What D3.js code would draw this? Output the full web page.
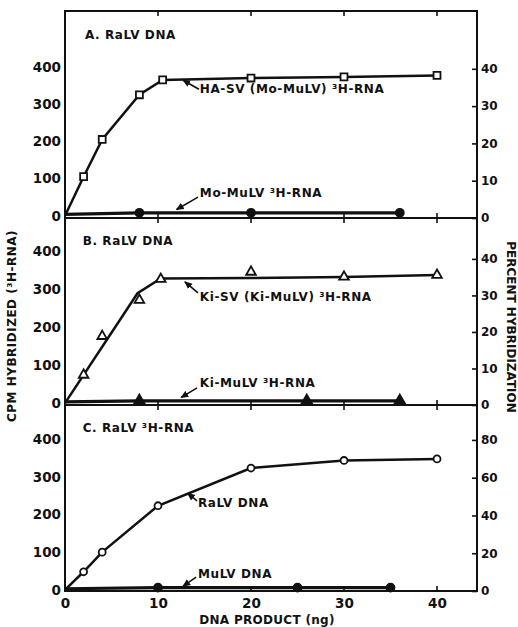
<!DOCTYPE html>
<html>
<head>
<meta charset="utf-8">
<script src="https://cdn.jsdelivr.net/npm/d3@7"></script>
<style>
body { margin: 0; background: #fff; }
text { font-family: "DejaVu Sans", sans-serif; font-weight: bold; fill: #111; }
</style>
</head>
<body>
<div id="chart"></div>
<script>
// DNA product (ng) and CPM hybridized
var haSvX = [2, 4, 8, 10.5, 20, 30, 40];
var haSvY = [105, 205, 325, 365, 370, 373, 377];
var moMulvX = [8, 20, 36];
var moMulvY = [8, 8, 8];

var kiSvX = [2, 4, 8, 10.3, 20, 30, 40];
var kiSvY = [74, 176, 271, 326, 345, 332, 337];
var kiSvFitX = [0, 7.8, 10.3, 20, 30, 40];
var kiSvFitY = [0, 289, 328, 329, 332, 337];
var kiMulvX = [8, 26, 36];
var kiMulvY = [6, 6, 6];

var ralvX = [2, 4, 10, 20, 30, 40];
var ralvY = [48, 100, 223, 323, 343, 347];
var mulvX = [10, 25, 35];
var mulvY = [6, 6, 6];

var xTicks = [0, 10, 20, 30, 40];
var innerTicks = [10, 20, 30, 40];
var cpmTicks = [0, 100, 200, 300, 400];
var pctTicksAB = [0, 10, 20, 30, 40];
var pctTicksC = [0, 20, 40, 60, 80];

// labels and leader arrows, in data units (ng, cpm)
var labelsA = [["A. RaLV DNA", 2.15, 475], ["HA-SV (Mo-MuLV) ³H-RNA", 14.5, 330], ["Mo-MuLV ³H-RNA", 14.5, 50]];
var arrowsA = [[14.4, 340, 12.7, 364], [14.3, 50, 12.0, 17]];
var labelsB = [["B. RaLV DNA", 1.9, 416], ["Ki-SV (Ki-MuLV) ³H-RNA", 14.5, 268], ["Ki-MuLV ³H-RNA", 14.5, 42]];
var arrowsB = [[14.3, 290, 12.9, 319], [14.2, 40, 12.5, 15]];
var labelsC = [["C. RaLV ³H-RNA", 1.9, 419], ["RaLV DNA", 14.3, 220], ["MuLV DNA", 14.3, 32]];
var arrowsC = [[14.2, 236, 13.2, 256], [14.1, 34, 12.7, 10]];

function pts(xs, ys) { return xs.map(function(d, i) { return [d, ys[i]]; }); }

var margin = {top: 11, right: 41, bottom: 36, left: 65},
  width = 518 - margin.left - margin.right,
  height = 627 - margin.top - margin.bottom;

var svg = d3.select("#chart")
  .append("svg")
  .attr("width", 518)
  .attr("height", 627)
  .append("g")
  .attr("transform", "translate(" + margin.left + "," + margin.top + ")");

svg.append("defs").append("marker")
  .attr("id", "arr")
  .attr("viewBox", "0 0 8 8")
  .attr("refX", 7).attr("refY", 4)
  .attr("markerWidth", 8).attr("markerHeight", 8)
  .attr("markerUnits", "userSpaceOnUse")
  .attr("orient", "auto")
  .append("path").attr("d", "M0,0.5L8,4L0,7.5z").attr("fill", "#111");

var x = d3.scaleLinear().domain([0, 44.3]).range([0, width]);

var panels = [
  {top: 0, bottom: 207, y: d3.scaleLinear().domain([-6, 550]).range([207, 0]),
   pct: d3.scaleLinear().domain([0, 55.5]).range([207, 0]), pctTicks: pctTicksAB,
   series: [
     {line: pts([0].concat(haSvX), [0].concat(haSvY)), marks: pts(haSvX, haSvY), shape: d3.symbolSquare, size: 48, open: true},
     {line: pts([0].concat(moMulvX), [4].concat(moMulvY)), marks: pts(moMulvX, moMulvY), shape: d3.symbolCircle, size: 50, open: false}
   ], labels: labelsA, arrows: arrowsA},
  {top: 207, bottom: 394, y: d3.scaleLinear().domain([-5, 487]).range([394, 207]),
   pct: d3.scaleLinear().domain([0, 51.2]).range([394, 207]), pctTicks: pctTicksAB,
   series: [
     {line: pts(kiSvFitX, kiSvFitY), marks: pts(kiSvX, kiSvY), shape: d3.symbolTriangle, size: 40, open: true},
     {line: pts([0].concat(kiMulvX), [3].concat(kiMulvY)), marks: pts(kiMulvX, kiMulvY), shape: d3.symbolTriangle, size: 50, open: false}
   ], labels: labelsB, arrows: arrowsB},
  {top: 394, bottom: 580, y: d3.scaleLinear().domain([-3, 490]).range([580, 394]),
   pct: d3.scaleLinear().domain([0, 98.5]).range([580, 394]), pctTicks: pctTicksC,
   series: [
     {line: pts([0].concat(ralvX), [0].concat(ralvY)), marks: pts(ralvX, ralvY), shape: d3.symbolCircle, size: 38, open: true},
     {line: pts([0].concat(mulvX), [3].concat(mulvY)), marks: pts(mulvX, mulvY), shape: d3.symbolCircle, size: 50, open: false}
   ], labels: labelsC, arrows: arrowsC}
];

panels.forEach(function(p) {
  var g = svg.append("g");

  // left cpm axis
  g.append("g")
    .call(d3.axisLeft(p.y).tickValues(cpmTicks).tickSize(0).tickPadding(4))
    .call(function(a) { a.select(".domain").remove(); })
    .selectAll("text").style("font-size", "13.5px").attr("font-family", null);

  // right percent axis, ticks inward
  g.append("g")
    .attr("transform", "translate(" + width + ",0)")
    .call(d3.axisRight(p.pct).tickValues(p.pctTicks).tickSize(-5).tickPadding(4))
    .call(function(a) {
      a.select(".domain").remove();
      a.selectAll("line").attr("stroke", "#111").attr("stroke-width", 1.6);
    })
    .selectAll("text").style("font-size", "12px").attr("font-family", null);

  // x ticks inward at panel top and bottom
  g.selectAll(".tt").data(innerTicks).enter().append("line")
    .attr("x1", function(d) { return x(d); }).attr("x2", function(d) { return x(d); })
    .attr("y1", p.top).attr("y2", p.top + 5)
    .attr("stroke", "#111").attr("stroke-width", 1.6);
  g.selectAll(".bt").data(innerTicks).enter().append("line")
    .attr("x1", function(d) { return x(d); }).attr("x2", function(d) { return x(d); })
    .attr("y1", p.bottom).attr("y2", p.bottom - 5)
    .attr("stroke", "#111").attr("stroke-width", 1.6);

  var line = d3.line()
    .x(function(d) { return x(d[0]); })
    .y(function(d) { return p.y(d[1]); });

  p.series.forEach(function(s) {
    g.append("path")
      .datum(s.line)
      .attr("d", line)
      .attr("fill", "none")
      .attr("stroke", "#111")
      .attr("stroke-width", s.open ? 2.5 : 3.2);
    g.selectAll(null).data(s.marks).enter().append("path")
      .attr("d", d3.symbol().type(s.shape).size(s.size))
      .attr("transform", function(d) { return "translate(" + x(d[0]) + "," + p.y(d[1]) + ")"; })
      .attr("fill", s.open ? "#fff" : "#111")
      .attr("stroke", "#111")
      .attr("stroke-width", 1.8);
  });

  g.selectAll(null).data(p.arrows).enter().append("line")
    .attr("x1", function(d) { return x(d[0]); })
    .attr("y1", function(d) { return p.y(d[1]); })
    .attr("x2", function(d) { return x(d[2]); })
    .attr("y2", function(d) { return p.y(d[3]); })
    .attr("stroke", "#111").attr("stroke-width", 1.6)
    .attr("marker-end", "url(#arr)");

  g.selectAll(null).data(p.labels).enter().append("text")
    .attr("x", function(d) { return x(d[1]); })
    .attr("y", function(d) { return p.y(d[2]); })
    .style("font-size", "12px")
    .style("letter-spacing", "0.6px")
    .text(function(d) { return d[0]; });
});

// frame and panel dividers
svg.append("rect")
  .attr("width", width).attr("height", height)
  .attr("fill", "none").attr("stroke", "#111").attr("stroke-width", 2);
svg.selectAll(".div").data(panels.slice(1)).enter().append("line")
  .attr("x1", 0).attr("x2", width)
  .attr("y1", function(d) { return d.top; }).attr("y2", function(d) { return d.top; })
  .attr("stroke", "#111").attr("stroke-width", 2);

// bottom x axis
svg.append("g")
  .attr("transform", "translate(0," + height + ")")
  .call(d3.axisBottom(x).tickValues(xTicks).tickSize(0).tickPadding(7))
  .call(function(a) { a.select(".domain").remove(); })
  .selectAll("text").style("font-size", "13.5px").attr("font-family", null);

svg.append("text")
  .attr("x", 202).attr("y", 613)
  .attr("text-anchor", "middle")
  .style("font-size", "12px")
  .style("letter-spacing", "0.3px")
  .text("DNA PRODUCT (ng)");

svg.append("text")
  .attr("transform", "translate(-49,315) rotate(-90)")
  .attr("text-anchor", "middle")
  .style("font-size", "12px")
  .style("letter-spacing", "0.5px")
  .text("CPM HYBRIDIZED (³H-RNA)");

svg.append("text")
  .attr("transform", "translate(442,316) rotate(90)")
  .attr("text-anchor", "middle")
  .style("font-size", "12px")
  .text("PERCENT HYBRIDIZATION");
</script>
</body>
</html>
